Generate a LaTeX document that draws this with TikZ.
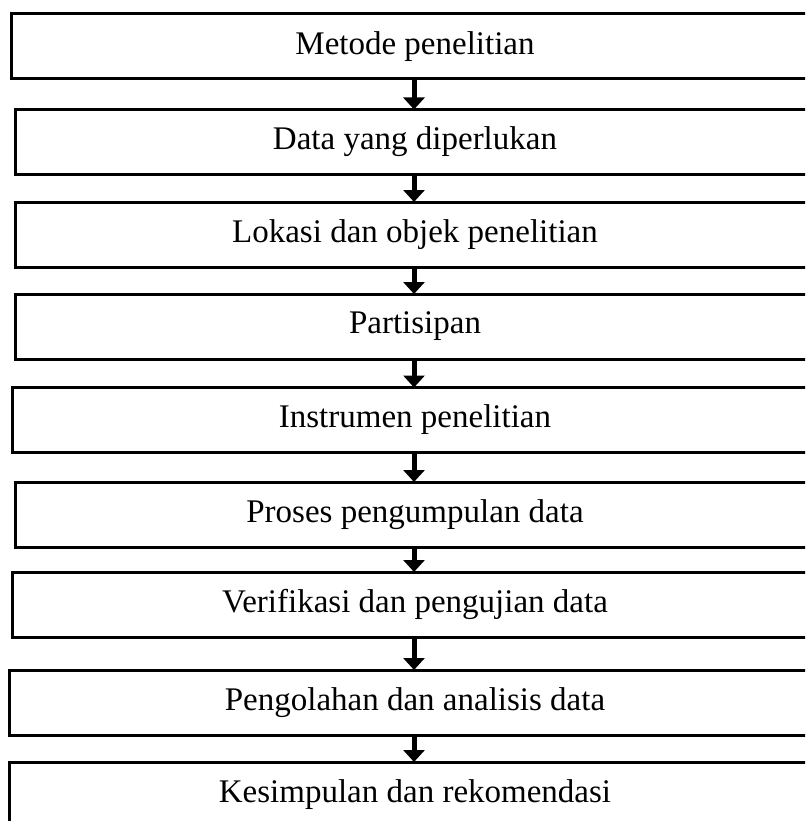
\documentclass[tikz,border=0pt]{standalone}
\usepackage{fontspec}
\setmainfont{Liberation Serif}
\usetikzlibrary{arrows.meta}
\begin{document}
\begin{tikzpicture}[x=1pt,y=-1pt,
  stepbox/.style={draw=black, line width=3pt, rectangle, inner sep=0pt, outer sep=0pt,
    minimum height=65pt, font=\fontsize{33}{40}\selectfont, text=black},
  arr/.style={line width=5pt, -{Triangle[width=21pt,length=12pt]}}]
\path[use as bounding box, clip] (0,0) rectangle (805,821);
\fill[white] (0,0) rectangle (805,821);
\node[stepbox, minimum width=808pt] (b1) at (415,46.5) {Metode penelitian};
\node[stepbox, minimum width=800pt] (b2) at (415,142) {Data yang diperlukan};
\node[stepbox, minimum width=800pt] (b3) at (415,234.5) {Lokasi dan objek penelitian};
\node[stepbox, minimum width=800pt] (b4) at (415,326.5) {Partisipan};
\node[stepbox, minimum width=806pt] (b5) at (415,420) {Instrumen penelitian};
\node[stepbox, minimum width=800pt] (b6) at (415,514.5) {Proses pengumpulan data};
\node[stepbox, minimum width=806pt] (b7) at (415,604.5) {Verifikasi dan pengujian data};
\node[stepbox, minimum width=811pt] (b8) at (415,702.5) {Pengolahan dan analisis data};
\node[stepbox, minimum width=811pt] (b9) at (415,794.5) {Kesimpulan dan rekomendasi};
\coordinate (ax) at (414,0);
\foreach \a/\b in {b1/b2,b2/b3,b3/b4,b4/b5,b5/b6,b6/b7,b7/b8,b8/b9}
  \draw[arr] (\a.south -| ax) -- (\b.north -| ax);
\end{tikzpicture}
\end{document}
